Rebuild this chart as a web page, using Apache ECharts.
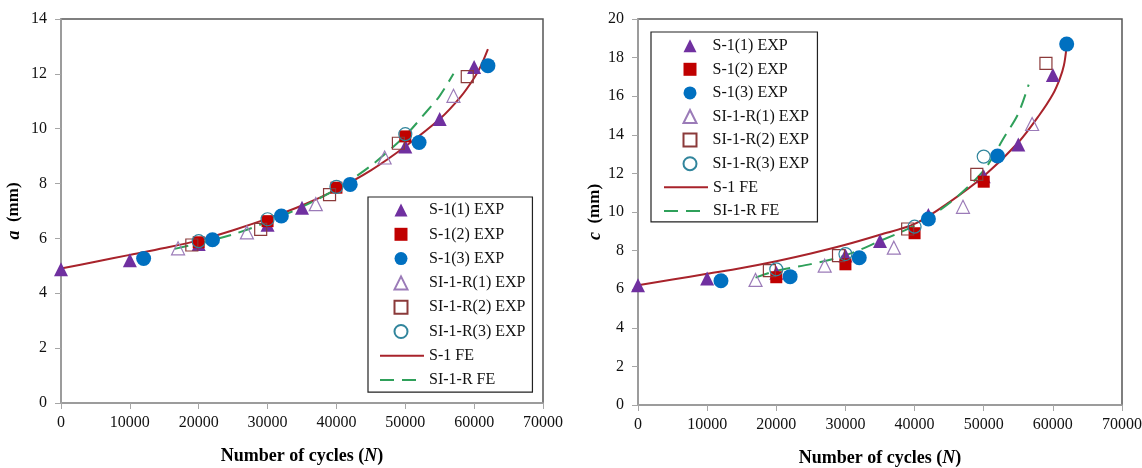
<!DOCTYPE html>
<html>
<head>
<meta charset="utf-8">
<script src="https://cdn.jsdelivr.net/npm/echarts@6/dist/echarts.min.js"></script>
<style>
    html, body { margin: 0; padding: 0; background: #fff; }
    #chart { width: 1142px; height: 468px; }
</style>
</head>
<body>
<div id="chart"></div>
<script>
// crack depth a (left) and half length c (right) vs number of cycles
var aS1_1 = [[0, 4.88], [10000, 5.2], [20000, 5.8], [30000, 6.5], [35000, 7.12], [50000, 9.35], [55000, 10.35], [60000, 12.25]];
var aS1_2 = [[20000, 5.86], [30000, 6.63], [40000, 7.85], [50000, 9.72]];
var aS1_3 = [[12000, 5.27], [22000, 5.95], [32000, 6.82], [42000, 7.97], [52000, 9.5], [62000, 12.3]];
var aR_1 = [[17000, 5.64], [27000, 6.22], [37000, 7.25], [47000, 8.95], [57000, 11.2]];
var aR_2 = [[19000, 5.76], [29000, 6.33], [39000, 7.6], [49000, 9.47], [59000, 11.9]];
var aR_3 = [[20000, 5.9], [30000, 6.7], [40000, 7.88], [50000, 9.8]];
var aFE_S1 = [[0, 4.9], [5000, 5.15], [10000, 5.4], [15000, 5.65], [20000, 5.93], [25000, 6.3], [30000, 6.72], [35000, 7.2],
    [40000, 7.78], [45000, 8.48], [50000, 9.35], [55000, 10.35], [58000, 11.15], [60000, 11.85], [61000, 12.3], [62000, 12.9]];
var aFE_R = [[16500, 5.62], [20000, 5.82], [25000, 6.15], [30000, 6.6], [35000, 7.15], [40000, 7.8], [45000, 8.65],
    [50000, 9.75], [53000, 10.6], [55000, 11.2], [57000, 12.0]];

var cS1_1 = [[0, 6.2], [10000, 6.55], [20000, 6.85], [30000, 7.75], [35000, 8.5], [42000, 9.85], [50000, 11.85], [55000, 13.5], [60000, 17.1]];
var cS1_2 = [[20000, 6.62], [30000, 7.29], [40000, 8.9], [50000, 11.57]];
var cS1_3 = [[12000, 6.44], [22000, 6.65], [32000, 7.63], [42000, 9.64], [52000, 12.9], [62000, 18.7]];
var cR_1 = [[17000, 6.48], [27000, 7.22], [37000, 8.15], [47000, 10.27], [57000, 14.56]];
var cR_2 = [[19000, 6.96], [29000, 7.74], [39000, 9.12], [49000, 11.95], [59000, 17.7]];
var cR_3 = [[20000, 7.03], [30000, 7.82], [40000, 9.24], [50000, 12.87]];
var cFE_S1 = [[0, 6.2], [5000, 6.5], [10000, 6.8], [15000, 7.1], [20000, 7.45], [25000, 7.85], [30000, 8.3], [35000, 8.82],
    [40000, 9.38], [45000, 10.5], [50000, 11.85], [55000, 13.6], [58000, 15.0], [60000, 16.1], [61000, 16.9], [61600, 17.6], [62000, 18.6]];
var cFE_R = [[17000, 6.6], [20000, 6.95], [25000, 7.3], [30000, 7.75], [35000, 8.5], [40000, 9.3], [45000, 10.45],
    [50000, 12.15], [53000, 13.9], [55000, 15.1], [56500, 16.6]];

var markNames = ["S-1(1) EXP", "S-1(2) EXP", "S-1(3) EXP", "SI-1-R(1) EXP", "SI-1-R(2) EXP", "SI-1-R(3) EXP"];
var lineNames = ["S-1 FE", "SI-1-R FE"];

var serif = "Liberation Serif";

var markStyles = [
    {symbol: "triangle", symbolSize: 14, itemStyle: {color: "#7030A0", opacity: 1}},
    {symbol: "rect", symbolSize: 12, itemStyle: {color: "#C00000", opacity: 1}},
    {symbol: "circle", symbolSize: 15, itemStyle: {color: "#0070C0", opacity: 1}},
    {symbol: "triangle", symbolSize: 13, itemStyle: {color: "rgba(255,255,255,0)", borderColor: "#9B7BB8", borderWidth: 1.2, opacity: 1}},
    {symbol: "rect", symbolSize: 12, itemStyle: {color: "rgba(255,255,255,0)", borderColor: "#8B3A3A", borderWidth: 1.2, opacity: 1}},
    {symbol: "circle", symbolSize: 13, itemStyle: {color: "rgba(255,255,255,0)", borderColor: "#31859C", borderWidth: 1.2, opacity: 1}}
];

function plainNumber(v) {
    return String(v);
}

function xAxisFor(gridIndex) {
    return {
        type: "value", gridIndex: gridIndex, min: 0, max: 70000, interval: 10000,
        name: "Number of cycles ({i|N})", nameLocation: "middle", nameGap: 44,
        nameTextStyle: {fontFamily: serif, fontSize: 18, fontWeight: "bold", color: "#000",
            rich: {i: {fontFamily: serif, fontSize: 18, fontWeight: "bold", fontStyle: "italic", color: "#000"}}},
        axisLine: {show: true, lineStyle: {color: "#a6a6a6", width: 1.5}},
        axisTick: {show: true, inside: false, length: 6, lineStyle: {color: "#a6a6a6"}},
        axisLabel: {fontFamily: serif, fontSize: 16, color: "#111", margin: 12, formatter: plainNumber,
            showMinLabel: true, showMaxLabel: true},
        splitLine: {show: false}
    };
}

function yAxisFor(gridIndex, letter, max, gap) {
    return {
        type: "value", gridIndex: gridIndex, min: 0, max: max, interval: 2,
        name: "{i|" + letter + "}  (mm)", nameLocation: "middle", nameGap: gap, nameRotate: 90,
        nameTextStyle: {fontFamily: serif, fontSize: 17, fontWeight: "bold", color: "#000",
            rich: {i: {fontFamily: serif, fontSize: 18, fontWeight: "bold", fontStyle: "italic", color: "#000"}}},
        axisLine: {show: true, lineStyle: {color: "#a6a6a6", width: 1.5}},
        axisTick: {show: true, inside: false, length: 6, lineStyle: {color: "#a6a6a6"}},
        axisLabel: {fontFamily: serif, fontSize: 16, color: "#111", margin: 14, showMinLabel: true, showMaxLabel: true},
        splitLine: {show: false}
    };
}

// framed legend with the six marker entries; its bottom padding leaves room for the line entries
function markLegend(left, top, gap, pad, textPad) {
    return {
        orient: "vertical", left: left, top: top, data: markNames, z: 4,
        itemWidth: 13, itemHeight: 13, itemGap: gap, padding: pad,
        backgroundColor: "#fff", borderColor: "#222", borderWidth: 1.2,
        textStyle: {fontFamily: serif, fontSize: 16, lineHeight: 16, color: "#111", padding: [0, 0, 0, textPad]},
        selectedMode: false
    };
}

function lineLegend(left, top, gap, padLeft) {
    return {
        orient: "vertical", left: left, top: top, data: lineNames, z: 6,
        itemWidth: 44, itemHeight: 13, itemGap: gap, padding: [0, 0, 0, padLeft],
        backgroundColor: "rgba(0,0,0,0)", borderWidth: 0,
        textStyle: {fontFamily: serif, fontSize: 16, lineHeight: 16, color: "#111"},
        selectedMode: false
    };
}

function buildSeries(axisIndex, marks, feS1, feR) {
    var list = [];
    list.push({
        name: lineNames[0], type: "line", xAxisIndex: axisIndex, yAxisIndex: axisIndex, data: feS1,
        smooth: 0.3, symbol: "none", z: 1, lineStyle: {color: "#A8232B", width: 2}, itemStyle: {color: "rgba(0,0,0,0)"}
    });
    list.push({
        name: lineNames[1], type: "line", xAxisIndex: axisIndex, yAxisIndex: axisIndex, data: feR,
        smooth: 0.3, symbol: "none", z: 1, lineStyle: {color: "#2FA05A", width: 2, type: [14, 8]}, itemStyle: {color: "rgba(0,0,0,0)"}
    });
    for (var i = 0; i < marks.length; i++) {
        var st = markStyles[i];
        list.push({
            name: markNames[i], type: "scatter", xAxisIndex: axisIndex, yAxisIndex: axisIndex, data: marks[i],
            symbol: st.symbol, symbolSize: st.symbolSize, itemStyle: st.itemStyle, z: 3
        });
    }
    return list;
}

var option = {
    animation: false,
    backgroundColor: "#fff",
    grid: [
        {left: 61, right: 599, top: 19, bottom: 65, show: true, borderColor: "#555", borderWidth: 1.5, outerBoundsMode: "none"},
        {left: 638, right: 20, top: 19, bottom: 63, show: true, borderColor: "#555", borderWidth: 1.5, outerBoundsMode: "none"}
    ],
    xAxis: [xAxisFor(0), xAxisFor(1)],
    yAxis: [yAxisFor(0, "a", 14, 38), yAxisFor(1, "c", 20, 34)],
    legend: [
        markLegend(368, 197, 8.3, [5, 7, 52.6, 25.5], 16.5),
        lineLegend(368, 347.8, 8.3, 11),
        markLegend(651, 32, 7.6, [5.7, 8.5, 50.2, 31.5], 11),
        lineLegend(651, 179.3, 7.6, 12)
    ],
    series: buildSeries(0, [aS1_1, aS1_2, aS1_3, aR_1, aR_2, aR_3], aFE_S1, aFE_R)
        .concat(buildSeries(1, [cS1_1, cS1_2, cS1_3, cR_1, cR_2, cR_3], cFE_S1, cFE_R))
};

var myChart = echarts.init(document.getElementById("chart"));
myChart.setOption(option);
</script>
</body>
</html>
